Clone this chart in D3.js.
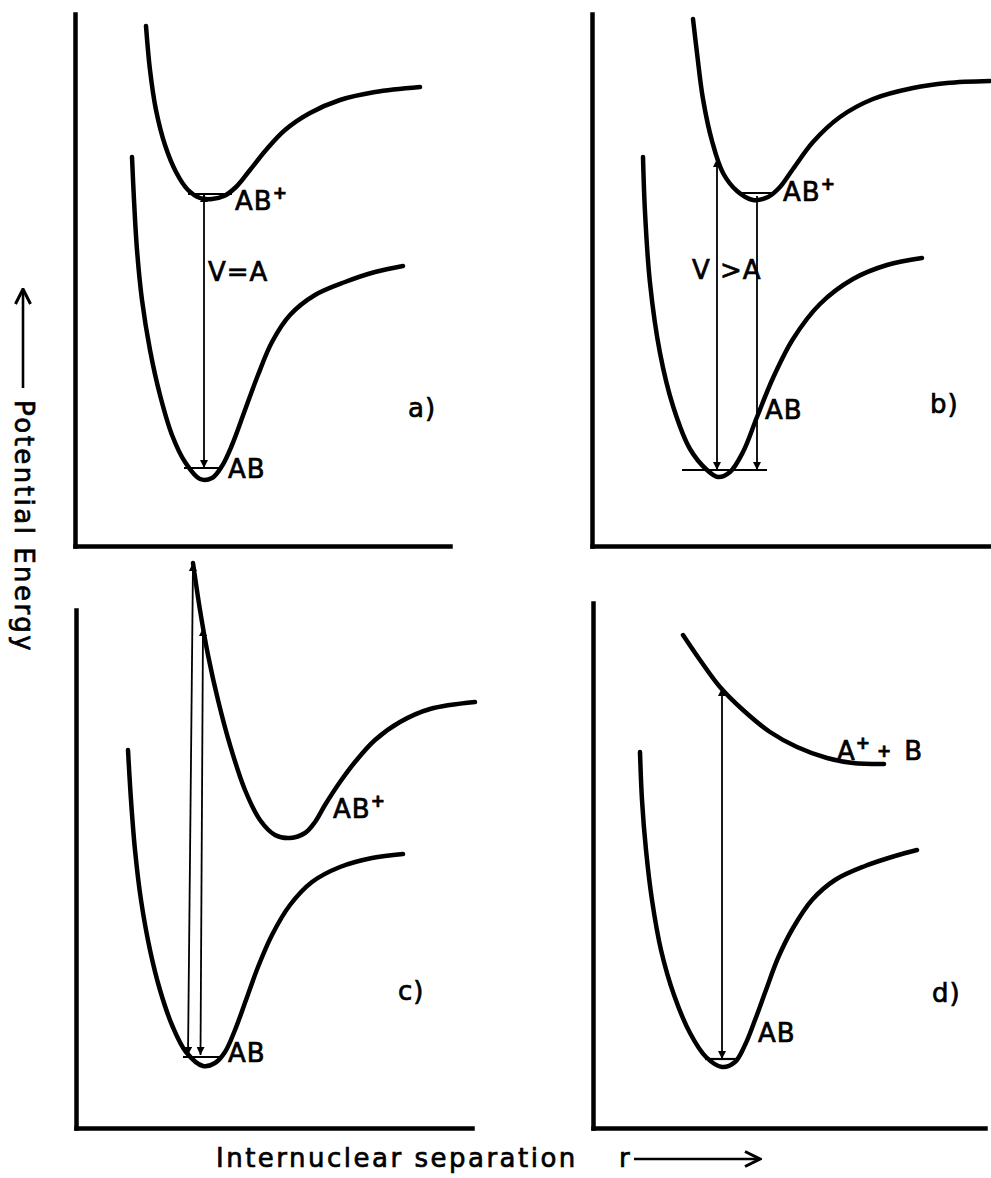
<!DOCTYPE html>
<html>
<head>
<meta charset="utf-8">
<title>Potential energy curves</title>
<script src="https://d3js.org/d3.v7.min.js"></script>
<style>
body { margin: 0; background: #fff; }
.curve { fill: none; stroke: #000; stroke-width: 4.5; stroke-linecap: round; }
.axis path { stroke: #000; stroke-width: 4.5; stroke-linecap: square; }
.level { stroke: #000; stroke-width: 2.2; }
.trans { stroke: #000; stroke-width: 1.8; }
.lbl { font-family: "DejaVu Sans"; font-size: 26px; fill: #000; stroke: #000; stroke-width: 0.7; letter-spacing: 1px; }
.title { font-family: "DejaVu Sans"; font-size: 26px; fill: #000; stroke: #000; stroke-width: 0.7; letter-spacing: 2.5px; }
</style>
</head>
<body>
<script>

// curve points: [r, E] in arbitrary units
const aUpper = [[7.1,52.0],[7.5,47.6],[8.1,43.6],[9.0,40.1],[10.1,37.4],[11.3,35.6],[12.5,34.8],[13.7,34.7],[14.9,35.0],[16.1,35.9],[17.5,37.6],[19.1,39.6],[21.0,41.6],[23.5,43.3],[26.5,44.6],[30.0,45.4],[34.5,45.9]];
const aLower = [[5.7,38.9],[5.9,34.6],[6.2,29.6],[6.7,24.6],[7.5,19.6],[8.5,15.1],[9.7,11.1],[11.0,8.4],[12.5,6.7],[13.7,6.8],[14.7,8.0],[15.7,10.1],[17.0,13.6],[18.3,17.1],[19.7,20.4],[21.5,23.1],[24.0,25.1],[27.0,26.4],[30.0,27.4],[32.8,28.0]];

const bUpper = [[10.1,52.7],[10.5,49.3],[11.1,44.7],[12.0,40.5],[13.1,37.3],[14.5,35.5],[16.1,34.6],[17.6,34.9],[18.8,35.9],[20.1,37.7],[22.1,40.4],[24.8,42.9],[28.1,44.7],[32.1,45.8],[35.5,46.3],[39.8,46.5]];
const bLower = [[5.1,38.9],[5.3,33.4],[5.8,26.3],[6.8,19.3],[8.1,14.0],[9.8,9.7],[11.5,7.6],[12.6,6.9],[13.8,7.4],[15.1,9.4],[16.5,12.9],[18.1,16.8],[20.1,20.7],[22.8,24.2],[26.1,26.7],[29.5,28.1],[33.0,28.8]];

const cUpper = [[11.7,56.5],[12.4,51.8],[13.2,47.3],[14.2,42.8],[15.4,38.3],[16.9,33.8],[18.4,30.8],[19.9,29.3],[21.4,29.0],[22.9,29.5],[23.9,30.6],[24.9,32.3],[26.4,34.6],[27.9,36.6],[29.9,38.8],[32.4,40.6],[35.4,41.9],[39.9,42.6]];
const cLower = [[5.2,37.8],[5.5,32.8],[5.9,27.8],[6.5,22.8],[7.4,17.8],[8.4,13.8],[9.6,10.3],[11.0,7.6],[12.7,6.2],[13.9,6.5],[14.9,7.6],[15.9,9.8],[17.0,12.8],[18.2,16.1],[19.6,19.3],[21.4,22.3],[23.6,24.6],[26.4,26.1],[29.6,27.0],[32.7,27.4]];

const dUpper = [[9.0,49.3],[10.7,46.8],[12.7,44.1],[15.0,41.8],[17.7,39.6],[20.4,38.1],[23.4,37.0],[26.0,36.5],[29.1,36.4]];
const dLower = [[4.7,37.6],[4.9,32.8],[5.3,27.8],[5.9,22.8],[6.8,17.8],[8.1,13.3],[9.7,9.5],[11.3,7.1],[12.9,6.1],[14.2,6.6],[15.2,8.3],[16.2,10.8],[17.3,13.8],[18.5,17.0],[20.0,20.0],[21.9,22.8],[24.2,24.8],[27.2,26.2],[30.2,27.2],[32.4,27.8]];

// vibrational levels: [r from, r to, E]
const aLevels = [[11.3,15.7,35.2],[10.9,14.7,7.8]];
const bLevels = [[14.5,18.1,35.3],[9.0,17.5,7.6]];
const cLevels = [[10.7,14.4,7.1]];
const dLevels = [[11.2,14.4,6.9]];

// vertical transitions: [r1, E1, r2, E2, head at start, head at end]
const aArrows = [[12.9,35.2,12.9,7.8,1,1]];
const bArrows = [[12.5,38.7,12.5,7.6,1,1],[16.5,35.0,16.5,7.6,0,1]];
const cArrows = [[11.7,56.5,11.2,7.3,1,1],[12.7,50.0,12.45,7.3,1,1]];
const dArrows = [[12.9,44.0,12.9,6.9,1,1]];

// labels: [r, E, text, superscript]
const aLabels = [[16.0,33.6,"AB","+"],[15.3,6.8,"AB",""],[13.3,26.5,"V=A",""],[33.3,12.9,"a)",""]];
const bLabels = [[19.1,34.5,"AB","+"],[17.3,12.7,"AB",""],[10.0,26.7,"V >A",""],[33.8,13.3,"b)",""]];
const cLabels = [[25.7,31.0,"AB","+"],[15.2,6.6,"AB",""],[32.2,12.8,"c)",""]];
const dLabels = [[24.4,36.8,"A","+"],[16.5,8.6,"AB",""],[33.9,12.6,"d)",""]];

const yTitle = "Potential Energy";
const xTitle = "Internuclear separation";

const width = 991, height = 1178;

var svg = d3.select("body").append("svg")
    .attr("width", width)
    .attr("height", height);

svg.append("rect").attr("width", width).attr("height", height).attr("fill", "#fff");

var defs = svg.append("defs");
defs.append("marker")
    .attr("id", "head")
    .attr("viewBox", "0 0 10 10")
    .attr("refX", 10).attr("refY", 5)
    .attr("markerWidth", 9).attr("markerHeight", 8)
    .attr("markerUnits", "userSpaceOnUse")
    .attr("orient", "auto-start-reverse")
  .append("path")
    .attr("d", "M0,0 L10,5 L0,10 z");
defs.append("marker")
    .attr("id", "chev")
    .attr("viewBox", "0 0 12 12")
    .attr("refX", 11).attr("refY", 6)
    .attr("markerWidth", 18).attr("markerHeight", 18)
    .attr("markerUnits", "userSpaceOnUse")
    .attr("orient", "auto")
  .append("path")
    .attr("d", "M1,1 L11,6 L1,11")
    .attr("fill", "none").attr("stroke", "#000").attr("stroke-width", 2);

// panel frames (pixel origin of the axes corner, axis lengths in data units)
const panels = [
  {ox: 75,  oy: 546,  xMax: 37.5, yMax: 53.2, curves: [aUpper, aLower], levels: aLevels, arrows: aArrows, labels: aLabels},
  {ox: 592, oy: 546,  xMax: 39.9, yMax: 53.2, curves: [bUpper, bLower], levels: bLevels, arrows: bArrows, labels: bLabels},
  {ox: 76,  oy: 1128, xMax: 39.6, yMax: 51.8, curves: [cUpper, cLower], levels: cLevels, arrows: cArrows, labels: cLabels},
  {ox: 593, oy: 1128, xMax: 39.2, yMax: 52.5, curves: [dUpper, dLower], levels: dLevels, arrows: dArrows, labels: dLabels}
];

const pxPerUnit = 10;

panels.forEach(function(p) {
  var x = d3.scaleLinear().domain([0, p.xMax]).range([p.ox, p.ox + p.xMax * pxPerUnit]);
  var y = d3.scaleLinear().domain([0, p.yMax]).range([p.oy, p.oy - p.yMax * pxPerUnit]);
  var g = svg.append("g");

  g.append("g").attr("class", "axis")
      .attr("transform", "translate(0," + p.oy + ")")
      .call(d3.axisBottom(x).tickValues([]).tickSizeOuter(0));
  g.append("g").attr("class", "axis")
      .attr("transform", "translate(" + p.ox + ",0)")
      .call(d3.axisLeft(y).tickValues([]).tickSizeOuter(0));

  var line = d3.line()
      .x(function(d) { return x(d[0]); })
      .y(function(d) { return y(d[1]); })
      .curve(d3.curveCatmullRom.alpha(0.5));

  g.selectAll(".curve").data(p.curves).enter().append("path")
      .attr("class", "curve")
      .attr("d", line);

  g.selectAll(".level").data(p.levels).enter().append("line")
      .attr("class", "level")
      .attr("x1", function(d) { return x(d[0]); })
      .attr("x2", function(d) { return x(d[1]); })
      .attr("y1", function(d) { return y(d[2]); })
      .attr("y2", function(d) { return y(d[2]); });

  g.selectAll(".trans").data(p.arrows).enter().append("line")
      .attr("class", "trans")
      .attr("x1", function(d) { return x(d[0]); })
      .attr("y1", function(d) { return y(d[1]); })
      .attr("x2", function(d) { return x(d[2]); })
      .attr("y2", function(d) { return y(d[3]); })
      .attr("marker-start", function(d) { return d[4] ? "url(#head)" : null; })
      .attr("marker-end", function(d) { return d[5] ? "url(#head)" : null; });

  var t = g.selectAll(".lbl").data(p.labels).enter().append("text")
      .attr("class", "lbl")
      .attr("x", function(d) { return x(d[0]); })
      .attr("y", function(d) { return y(d[1]); })
      .attr("xml:space", "preserve");
  t.append("tspan").text(function(d) { return d[2]; });
  t.filter(function(d) { return d[3]; }).append("tspan")
      .attr("dy", -11).attr("font-size", 17).attr("font-weight", "bold")
      .text(function(d) { return d[3]; });
});

// "A+ + B" tail in panel d
var dText = svg.selectAll(".lbl").filter(function(d) { return d[2] === "A"; });
dText.append("tspan").attr("dy", 8).attr("dx", 6).attr("font-size", 17).attr("font-weight", "bold").text("+");
dText.append("tspan").attr("dy", 3).attr("dx", 12).text("B");

// axis titles
svg.append("text")
    .attr("class", "title")
    .attr("transform", "translate(15,400) rotate(90)")
    .text(yTitle);
svg.append("line")
    .attr("x1", 23).attr("y1", 388).attr("x2", 23).attr("y2", 289)
    .attr("stroke", "#000").attr("stroke-width", 2.6)
    .attr("marker-end", "url(#chev)");

svg.append("text")
    .attr("class", "title")
    .attr("x", 216).attr("y", 1167)
    .text(xTitle);
svg.append("text")
    .attr("class", "title")
    .attr("x", 619).attr("y", 1167)
    .text("r");
svg.append("line")
    .attr("x1", 634).attr("y1", 1159).attr("x2", 760).attr("y2", 1159)
    .attr("stroke", "#000").attr("stroke-width", 2.6)
    .attr("marker-end", "url(#chev)");

</script>
</body>
</html>
